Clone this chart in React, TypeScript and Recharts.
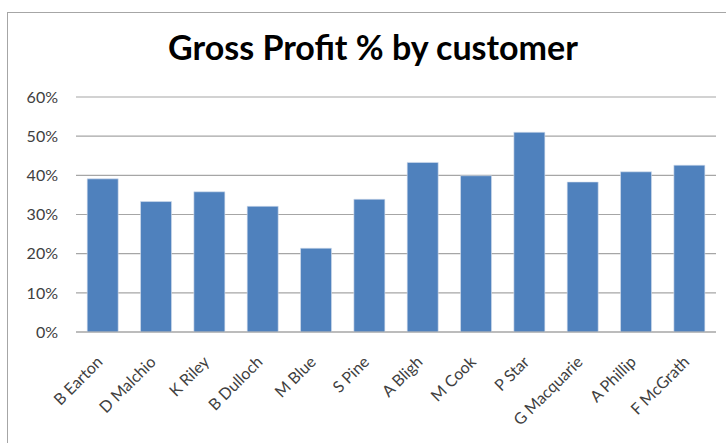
import { BarChart, Bar, XAxis, YAxis, CartesianGrid } from 'recharts';

const customers = [
  'B Earton', 'D Malchio', 'K Riley', 'B Dulloch', 'M Blue', 'S Pine',
  'A Bligh', 'M Cook', 'P Star', 'G Macquarie', 'A Phillip', 'F McGrath',
];
const grossProfit = [39.1, 33.3, 35.8, 32.1, 21.4, 33.9, 43.3, 39.9, 51.0, 38.3, 40.9, 42.6];
const yTicks = [0, 10, 20, 30, 40, 50, 60];

const chartData = customers.map((name, i) => ({ name, gp: grossProfit[i] }));

const font = 'Lato, "Open Sans", sans-serif';

const AngledTick = ({ x, y, payload }: any) => (
  <g transform={`translate(${x + 1},${y + 23})`}>
    <text
      x={0}
      y={0}
      textAnchor="end"
      transform="rotate(-45)"
      fill="#404040"
      fontSize={16}
      fontFamily={font}
    >
      {payload.value}
    </text>
  </g>
);

export default function App() {
  return (
    <div style={{ position: 'absolute', left: 0, top: 0, width: 726, height: 443, overflow: 'hidden', background: '#fff' }}>
      {/* chart frame, only left and top edges are in view */}
      <div
        style={{
          position: 'absolute',
          left: 7,
          top: 12,
          width: 760,
          height: 480,
          border: '1.5px solid #a6a6a6',
          boxSizing: 'border-box',
        }}
      />
      <div
        style={{
          position: 'absolute',
          left: 0,
          top: 26,
          width: 746,
          textAlign: 'center',
          fontFamily: font,
          fontWeight: 700,
          fontSize: 34,
          color: '#000',
        }}
      >
        Gross Profit % by customer
      </div>
      <div style={{ position: 'absolute', left: 0, top: 0 }}>
        <BarChart
          width={726}
          height={443}
          data={chartData}
          margin={{ top: 97, right: 10, left: 16, bottom: 21 }}
          barCategoryGap="21%"
        >
          <CartesianGrid horizontal vertical={false} stroke="#a6a6a6" strokeWidth={1.2} />
          <XAxis
            dataKey="name"
            interval={0}
            height={90}
            tickLine={false}
            axisLine={{ stroke: '#a6a6a6', strokeWidth: 1.2 }}
            tick={<AngledTick />}
          />
          <YAxis
            width={60}
            domain={[0, 60]}
            ticks={yTicks}
            tickFormatter={(v: number) => `${v}%`}
            axisLine={false}
            tickLine={false}
            tickMargin={12}
            tick={{ fill: '#404040', fontSize: 16, fontFamily: font }}
          />
          <Bar dataKey="gp" fill="#4f81bd" stroke="#d6e0ee" strokeWidth={0.6} isAnimationActive={false} />
        </BarChart>
      </div>
    </div>
  );
}
